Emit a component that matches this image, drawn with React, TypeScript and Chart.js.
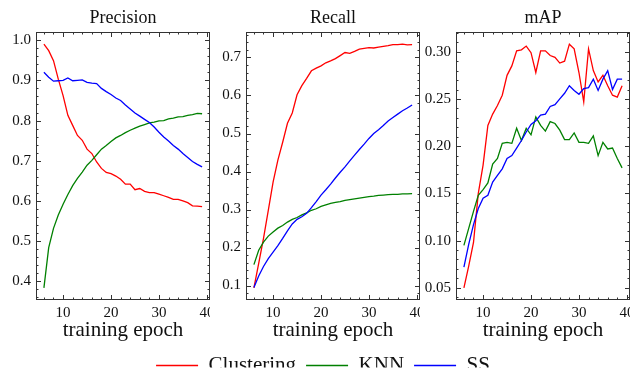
import React, { useEffect, useRef } from 'react';
import { Chart, registerables } from 'chart.js';

Chart.register(...registerables);

// ---------------- data ----------------
const epochs = [6, 7, 8, 9, 10, 11, 12, 13, 14, 15, 16, 17, 18, 19, 20, 21, 22, 23, 24, 25, 26, 27, 28, 29, 30, 31, 32, 33, 34, 35, 36, 37, 38, 39];

const seriesNames = ['Clustering', 'KNN', 'SS'];
const panelTitles = ['Precision', 'Recall', 'mAP'];
const xTitle = 'training epoch';

const precisionClustering = [0.990, 0.974, 0.949, 0.903, 0.862, 0.813, 0.788, 0.763, 0.751, 0.729, 0.718, 0.697, 0.681, 0.671, 0.668, 0.662, 0.654, 0.642, 0.642, 0.628, 0.631, 0.624, 0.621, 0.621, 0.617, 0.613, 0.609, 0.604, 0.604, 0.600, 0.596, 0.588, 0.587, 0.586];
const precisionKNN = [0.384, 0.484, 0.532, 0.565, 0.592, 0.616, 0.638, 0.656, 0.672, 0.689, 0.701, 0.715, 0.729, 0.738, 0.748, 0.757, 0.763, 0.770, 0.776, 0.781, 0.786, 0.790, 0.794, 0.796, 0.799, 0.800, 0.804, 0.806, 0.809, 0.810, 0.813, 0.815, 0.818, 0.817];
const precisionSS = [0.920, 0.908, 0.898, 0.899, 0.900, 0.906, 0.899, 0.900, 0.901, 0.895, 0.893, 0.892, 0.880, 0.872, 0.865, 0.856, 0.850, 0.839, 0.829, 0.819, 0.811, 0.803, 0.795, 0.784, 0.771, 0.759, 0.749, 0.738, 0.729, 0.718, 0.708, 0.698, 0.691, 0.685];

const recallClustering = [0.094, 0.158, 0.224, 0.298, 0.372, 0.430, 0.477, 0.527, 0.554, 0.602, 0.626, 0.645, 0.665, 0.672, 0.678, 0.686, 0.691, 0.697, 0.705, 0.713, 0.711, 0.716, 0.722, 0.724, 0.726, 0.725, 0.727, 0.729, 0.731, 0.734, 0.734, 0.735, 0.733, 0.734];
const recallKNN = [0.155, 0.193, 0.214, 0.230, 0.241, 0.251, 0.258, 0.267, 0.274, 0.279, 0.286, 0.291, 0.298, 0.302, 0.308, 0.312, 0.316, 0.319, 0.321, 0.324, 0.326, 0.328, 0.330, 0.332, 0.334, 0.335, 0.337, 0.338, 0.339, 0.340, 0.340, 0.341, 0.341, 0.342];
const recallSS = [0.095, 0.125, 0.150, 0.171, 0.188, 0.205, 0.224, 0.244, 0.262, 0.274, 0.281, 0.290, 0.305, 0.321, 0.338, 0.352, 0.367, 0.383, 0.398, 0.412, 0.428, 0.443, 0.458, 0.472, 0.487, 0.500, 0.510, 0.521, 0.533, 0.542, 0.551, 0.560, 0.567, 0.575];

const mapClustering = [0.050, 0.073, 0.098, 0.150, 0.180, 0.222, 0.234, 0.243, 0.254, 0.275, 0.285, 0.301, 0.302, 0.306, 0.299, 0.278, 0.301, 0.301, 0.296, 0.294, 0.288, 0.290, 0.308, 0.303, 0.278, 0.247, 0.303, 0.280, 0.268, 0.275, 0.264, 0.254, 0.252, 0.264];
const mapKNN = [0.095, 0.113, 0.131, 0.148, 0.154, 0.161, 0.181, 0.187, 0.203, 0.204, 0.203, 0.219, 0.206, 0.219, 0.212, 0.231, 0.222, 0.216, 0.226, 0.224, 0.217, 0.207, 0.207, 0.214, 0.204, 0.204, 0.203, 0.211, 0.190, 0.204, 0.197, 0.198, 0.187, 0.177];
const mapSS = [0.072, 0.096, 0.117, 0.134, 0.145, 0.148, 0.162, 0.169, 0.176, 0.187, 0.190, 0.198, 0.206, 0.215, 0.223, 0.227, 0.233, 0.234, 0.242, 0.244, 0.250, 0.256, 0.264, 0.259, 0.255, 0.261, 0.262, 0.271, 0.259, 0.271, 0.280, 0.260, 0.271, 0.271];

const xTickValues = [10, 20, 30, 40];
const precisionTickStep = 0.1;
const recallTickStep = 0.1;
const mapTickStep = 0.05;

// ---------------- styling ----------------
const COLORS = ['#ff0000', '#008000', '#0000ff'];
const FONT = '"Liberation Serif", "Times New Roman", serif';
const INK = '#111111';
const FRAME = '#333333';

// matplotlib-like autoscale with 5% margins
function autoRange(arrays: number[][]): [number, number] {
  let lo = Infinity;
  let hi = -Infinity;
  arrays.forEach((a) => a.forEach((v) => { lo = Math.min(lo, v); hi = Math.max(hi, v); }));
  const m = (hi - lo) * 0.05;
  return [lo - m, hi + m];
}

const frameTicks = {
  id: 'frameTicks',
  afterDatasetsDraw(chart: any, _args: any, opts: any) {
    const { ctx, chartArea: a, scales } = chart;
    const x = scales.x;
    const y = scales.y;
    ctx.save();
    ctx.strokeStyle = FRAME;
    ctx.lineWidth = 1;
    ctx.strokeRect(a.left + 0.5, a.top + 0.5, a.right - a.left - 1, a.bottom - a.top - 1);
    const line = (x1: number, y1: number, x2: number, y2: number) => {
      ctx.beginPath();
      ctx.moveTo(x1, y1);
      ctx.lineTo(x2, y2);
      ctx.stroke();
    };
    const marks = (scale: any, step: number, len: number, horizontal: boolean) => {
      const start = Math.ceil(scale.min / step - 1e-9);
      const end = Math.floor(scale.max / step + 1e-9);
      for (let k = start; k <= end; k++) {
        const p = Math.round(scale.getPixelForValue(k * step)) + 0.5;
        if (horizontal) {
          if (p < a.left || p > a.right) continue;
          line(p, a.bottom, p, a.bottom - len);
          line(p, a.top, p, a.top + len);
        } else {
          if (p < a.top || p > a.bottom) continue;
          line(a.left, p, a.left + len, p);
          line(a.right, p, a.right - len, p);
        }
      }
    };
    marks(x, opts.xMinor, 2.5, true);
    marks(x, opts.xMajor, 5, true);
    marks(y, opts.yMinor, 2.5, false);
    marks(y, opts.yMajor, 5, false);
    ctx.restore();
  },
};

function zeroPad(scale: any) {
  scale.paddingLeft = 0;
  scale.paddingRight = 0;
  scale.paddingTop = 0;
  scale.paddingBottom = 0;
}

interface PanelProps {
  title: string;
  series: number[][];
  yStep: number;
  yMinor: number;
  decimals: number;
  left: number;
}

function Panel({ title, series, yStep, yMinor, decimals, left }: PanelProps) {
  const ref = useRef<HTMLCanvasElement | null>(null);
  useEffect(() => {
    if (!ref.current) return;
    const [xMin, xMax] = autoRange([epochs]);
    const [yMin, yMax] = autoRange(series);
    const datasets = series.map((vals, i) => ({
      label: seriesNames[i],
      data: epochs.map((e, j) => ({ x: e, y: vals[j] })),
      borderColor: COLORS[i],
      backgroundColor: COLORS[i],
      borderWidth: 1.3,
      pointRadius: 0,
      tension: 0,
      fill: false,
      order: 3 - i,
    }));
    const chart = new Chart(ref.current, {
      type: 'line',
      data: { datasets },
      plugins: [frameTicks],
      options: {
        animation: false,
        responsive: false,
        devicePixelRatio: 1,
        layout: { padding: 0 },
        plugins: {
          legend: { display: false },
          tooltip: { enabled: false },
          title: {
            display: true,
            fullSize: false,
            text: title,
            color: INK,
            font: { family: FONT, size: 18, weight: 'normal', lineHeight: 1.2 },
            padding: { top: 7, bottom: 3.4 },
          },
          frameTicks: { xMajor: 10, xMinor: 2, yMajor: yStep, yMinor },
        } as any,
        scales: {
          x: {
            type: 'linear',
            min: xMin,
            max: xMax,
            grid: { display: false, drawTicks: false },
            border: { display: false },
            afterBuildTicks: (s: any) => { s.ticks = xTickValues.map((v) => ({ value: v })); },
            afterFit: (s: any) => { s.height = 45; zeroPad(s); },
            ticks: {
              color: INK,
              padding: 4,
              maxRotation: 0,
              font: { family: FONT, size: 15 },
              callback: (v: any) => String(v),
            },
            title: {
              display: true,
              text: xTitle,
              color: INK,
              font: { family: FONT, size: 21, lineHeight: 1.2 },
              padding: { top: 0, bottom: 2 },
            },
          },
          y: {
            type: 'linear',
            min: yMin,
            max: yMax,
            grid: { display: false, drawTicks: false },
            border: { display: false },
            afterFit: (s: any) => { s.width = 36; zeroPad(s); },
            ticks: {
              stepSize: yStep,
              includeBounds: false,
              color: INK,
              padding: 5,
              font: { family: FONT, size: 15 },
              callback: (v: any) => Number(v).toFixed(decimals),
            },
          },
        },
      } as any,
    });
    return () => chart.destroy();
  }, []);
  return (
    <canvas
      ref={ref}
      width={210}
      height={345}
      style={{ position: 'absolute', left, top: 0, width: 210, height: 345, display: 'block' }}
    />
  );
}

function LegendStrip() {
  const ref = useRef<HTMLCanvasElement | null>(null);
  useEffect(() => {
    if (!ref.current) return;
    const chart = new Chart(ref.current, {
      type: 'line',
      data: {
        datasets: seriesNames.map((name, i) => ({
          label: name,
          data: [],
          borderColor: COLORS[i],
          backgroundColor: COLORS[i],
          borderWidth: 1.3,
        })),
      },
      options: {
        animation: false,
        responsive: false,
        devicePixelRatio: 1,
        layout: { padding: { top: 15 } },
        scales: { x: { display: false }, y: { display: false } },
        plugins: {
          tooltip: { enabled: false },
          legend: {
            display: true,
            position: 'top',
            onClick: () => {},
            labels: {
              usePointStyle: true,
              pointStyle: 'line',
              pointStyleWidth: 42,
              color: INK,
              padding: 10,
              font: { family: FONT, size: 21 },
            },
          },
        },
      } as any,
    });
    return () => chart.destroy();
  }, []);
  return (
    <canvas
      ref={ref}
      width={614}
      height={60}
      style={{ position: 'absolute', left: 16, top: 330, width: 614, height: 60, display: 'block' }}
    />
  );
}

export default function App() {
  return (
    <div style={{ position: 'fixed', left: 0, top: 0, width: 630, height: 375, overflow: 'hidden', background: '#ffffff' }}>
      <Panel title={panelTitles[0]} series={[precisionClustering, precisionKNN, precisionSS]} yStep={precisionTickStep} yMinor={0.02} decimals={1} left={0} />
      <Panel title={panelTitles[1]} series={[recallClustering, recallKNN, recallSS]} yStep={recallTickStep} yMinor={0.02} decimals={1} left={210} />
      <Panel title={panelTitles[2]} series={[mapClustering, mapKNN, mapSS]} yStep={mapTickStep} yMinor={0.01} decimals={2} left={420} />
      <LegendStrip />
    </div>
  );
}
